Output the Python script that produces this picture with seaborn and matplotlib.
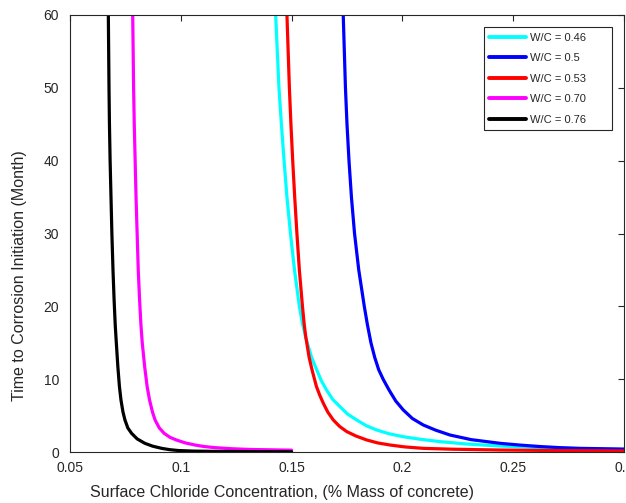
import matplotlib
matplotlib.use("Agg")
import matplotlib.pyplot as plt
import seaborn as sns
import pandas as pd

# Time to corrosion initiation (months) vs surface chloride concentration
series_names = ["W/C = 0.46", "W/C = 0.5", "W/C = 0.53", "W/C = 0.70", "W/C = 0.76"]
series_colors = ["#00FFFF", "#0000FF", "#FF0000", "#FF00FF", "#000000"]

wc046_x = [0.1428, 0.1443, 0.1454, 0.1466, 0.1479, 0.1495, 0.1513, 0.1535, 0.1550,
           0.1563, 0.1590, 0.1613, 0.1634, 0.1658, 0.1686, 0.1719, 0.1753, 0.1794,
           0.1838, 0.1884, 0.1940, 0.2004, 0.2080, 0.2170, 0.2290, 0.2441, 0.2711,
           0.3000]
wc046_y = [60.0, 50.0, 45.0, 40.0, 35.0, 30.0, 25.0, 20.0, 17.5,
           15.8, 13.0, 11.3, 9.8, 8.5, 7.2, 6.2, 5.2, 4.39,
           3.6, 3.02, 2.5, 2.1, 1.75, 1.42, 1.1, 0.82, 0.5,
           0.35]

wc050_x = [0.1733, 0.1743, 0.1750, 0.1759, 0.1770, 0.1784, 0.1803, 0.1828, 0.1842,
           0.1858, 0.1875, 0.1893, 0.1913, 0.1940, 0.1970, 0.2004, 0.2045, 0.2094,
           0.2150, 0.2215, 0.2310, 0.2441, 0.2530, 0.2621, 0.2710, 0.2802, 0.3000]
wc050_y = [60.0, 50.0, 45.0, 40.0, 35.0, 30.0, 25.0, 20.0, 17.5,
           15.0, 13.0, 11.3, 10.0, 8.5, 7.0, 5.77, 4.6, 3.71,
           3.0, 2.33, 1.7, 1.19, 0.95, 0.75, 0.6, 0.5, 0.4]

wc053_x = [0.1479, 0.1490, 0.1497, 0.1505, 0.1514, 0.1524, 0.1535, 0.1549, 0.1557,
           0.1564, 0.1579, 0.1592, 0.1612, 0.1627, 0.1643, 0.1663, 0.1688, 0.1717,
           0.1749, 0.1790, 0.1839, 0.1888, 0.1944, 0.2010, 0.2094, 0.2230, 0.2441,
           0.2700, 0.3000]
wc053_y = [60.0, 50.0, 45.0, 40.0, 35.0, 30.0, 25.0, 20.0, 17.5,
           15.8, 13.0, 11.3, 9.0, 7.8, 6.7, 5.5, 4.4, 3.5,
           2.8, 2.2, 1.65, 1.25, 0.96, 0.7, 0.5, 0.38, 0.27,
           0.2, 0.15]

wc070_x = [0.0783, 0.0787, 0.0790, 0.0794, 0.0798, 0.0803, 0.0808, 0.0814, 0.0820,
           0.0826, 0.0837, 0.0848, 0.0859, 0.0872, 0.0884, 0.0903, 0.0925, 0.0952,
           0.0980, 0.1020, 0.1064, 0.1105, 0.1154, 0.1230, 0.1312, 0.1500]
wc070_y = [60.0, 50.0, 45.0, 40.0, 35.0, 30.0, 25.0, 20.9, 17.5,
           15.0, 11.7, 9.0, 7.14, 5.5, 4.39, 3.3, 2.56, 2.0,
           1.65, 1.25, 0.96, 0.75, 0.6, 0.45, 0.35, 0.25]

wc076_x = [0.0673, 0.0676, 0.0678, 0.0681, 0.0685, 0.0689, 0.0694, 0.0699, 0.0704,
           0.0709, 0.0716, 0.0723, 0.0730, 0.0739, 0.0748, 0.0761, 0.0778, 0.0803,
           0.0838, 0.0873, 0.0914, 0.0950, 0.0990, 0.1060, 0.1177, 0.1320, 0.1500]
wc076_y = [60.0, 50.0, 45.0, 40.0, 35.0, 30.0, 25.0, 20.9, 17.5,
           15.0, 11.7, 9.0, 7.14, 5.5, 4.39, 3.3, 2.56, 1.8,
           1.19, 0.8, 0.5, 0.32, 0.2, 0.12, 0.08, 0.05, 0.03]

x_ticks = [0.05, 0.1, 0.15, 0.2, 0.25, 0.3]
x_tick_labels = ["0.05", "0.1", "0.15", "0.2", "0.25", "0.3"]
y_ticks = [0, 10, 20, 30, 40, 50, 60]

frames = []
for name, xs, ys in zip(series_names,
                        [wc046_x, wc050_x, wc053_x, wc070_x, wc076_x],
                        [wc046_y, wc050_y, wc053_y, wc070_y, wc076_y]):
    frames.append(pd.DataFrame({"conc": xs, "months": ys, "mix": name}))
data = pd.concat(frames, ignore_index=True)

sns.set_style("white")
plt.rcParams["font.family"] = ["Liberation Sans", "DejaVu Sans"]

fig = plt.figure(figsize=(6.26, 5.03), dpi=100)
ax = fig.add_axes([70 / 626, 51 / 503, 554 / 626, 437 / 503])

sns.lineplot(data=data, x="conc", y="months", hue="mix", hue_order=series_names,
             palette=series_colors, sort=False, estimator=None, units="mix",
             linewidth=2.3, ax=ax, legend=True)

ax.set_xlim(0.05, 0.3)
ax.set_ylim(0, 60)
ax.set_xticks(x_ticks)
ax.set_xticklabels(x_tick_labels)
ax.set_yticks(y_ticks)
ax.tick_params(axis="both", direction="in", length=4, width=0.8, colors="#262626",
               labelsize=10, top=True, right=True)
ax.tick_params(axis="x", pad=6.5)
ax.tick_params(axis="y", pad=8)
for sp in ax.spines.values():
    sp.set_visible(True)
    sp.set_color("#262626")
    sp.set_linewidth(0.8)

ax.set_xlabel("Surface Chloride Concentration, (% Mass of concrete)", fontsize=11.5,
              color="#262626")
ax.set_ylabel("Time to Corrosion Initiation (Month)", fontsize=11.5,
              color="#262626")
ax.xaxis.set_label_coords((282 - 70) / 554, (452 - 492) / 437)
ax.yaxis.set_label_coords((20 - 70) / 554, (452 - 276) / 437)
ax.xaxis.label.set_va("center")
ax.yaxis.label.set_va("center")

leg = ax.legend(loc="upper right", bbox_to_anchor=(0.747, 0.5, 0.231, 0.4725),
                mode="expand", borderaxespad=0, fontsize=8, handlelength=3.3,
                handletextpad=0.35, labelspacing=0.95, fancybox=False,
                framealpha=1, edgecolor="#262626", borderpad=0.5)
leg.get_frame().set_linewidth(0.8)
for line in leg.get_lines():
    line.set_linewidth(2.8)

fig.savefig("out.png", dpi=100)
